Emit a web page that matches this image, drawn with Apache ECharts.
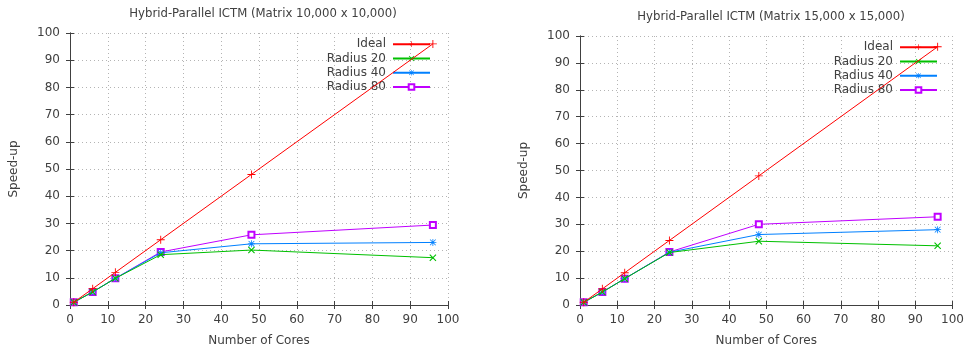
<!DOCTYPE html>
<html>
<head>
<meta charset="utf-8">
<script src="https://cdn.jsdelivr.net/npm/echarts@6/dist/echarts.min.js"></script>
<style>
  html, body { margin: 0; padding: 0; background: #fff; }
  #chart { width: 967px; height: 352px; }
</style>
</head>
<body>
<div id="chart"></div>
<script>
// Data
const cores = [1, 6, 12, 24, 48, 96];
const seriesNames = ["Ideal", "Radius 20", "Radius 40", "Radius 80"];
const xTicks = [0, 10, 20, 30, 40, 50, 60, 70, 80, 90, 100];
const yTicks = [0, 10, 20, 30, 40, 50, 60, 70, 80, 90, 100];
const titles = ["Hybrid-Parallel ICTM (Matrix 10,000 x 10,000)", "Hybrid-Parallel ICTM (Matrix 15,000 x 15,000)"];

// Matrix 10,000 x 10,000
const idealA = [1, 6, 12, 24, 48, 96];
const r20A = [1, 4.8, 9.8, 18.5, 20.2, 17.4];
const r40A = [1, 4.8, 9.8, 19.2, 22.5, 23];
const r80A = [1, 4.8, 9.8, 19.5, 25.8, 29.4];

// Matrix 15,000 x 15,000
const idealB = [1, 6, 12, 24, 48, 96];
const r20B = [1, 4.8, 9.8, 19.5, 23.7, 22];
const r40B = [1, 4.8, 9.8, 19.6, 26.2, 28];
const r80B = [1, 4.8, 9.8, 19.7, 30, 32.8];

const font = "DejaVu Sans";
const textColor = "#404040";
const colors = ["#ff0000", "#00c000", "#0080ff", "#c000ff"];
const plusPath = "path://M0,4 L9,4 L9,5 L0,5 Z M4,0 L5,0 L5,9 L4,9 Z";
const crossPath = "path://M0,1 L1,0 L9,8 L8,9 Z M8,0 L9,1 L1,9 L0,8 Z";
const starPath = "path://M0,4 L9,4 L9,5 L0,5 Z M4,0 L5,0 L5,9 L4,9 Z M0.5,1.2 L1.2,0.5 L8.5,7.8 L7.8,8.5 Z M7.8,0.5 L8.5,1.2 L1.2,8.5 L0.5,7.8 Z";
const symbols = [plusPath, crossPath, starPath, "emptyRect"];
const sizes = [8, 7, 7, 6];

const chart = echarts.init(document.getElementById("chart"));

const grids = [
  { left: 70, right: 519, top: 33, bottom: 47 },
  { left: 580, right: 11, top: 36, bottom: 46 }
];

function mainX(i) {
  return {
    type: "value", gridIndex: i, min: 0, max: 100, interval: 10,
    name: "Number of Cores", nameLocation: "middle", nameGap: 30,
    nameTextStyle: { color: textColor, fontFamily: font, fontSize: 12 },
    axisLine: { lineStyle: { color: "#404040", width: 1 } },
    axisTick: { inside: true, length: 4, lineStyle: { color: "#404040" } },
    axisLabel: { color: textColor, fontFamily: font, fontSize: 12, margin: 9 },
    splitLine: { show: true, lineStyle: { color: "#b4b4b4", type: [1, 3] } }
  };
}
function mirrorX(i) {
  return {
    type: "value", gridIndex: i, min: 0, max: 100, interval: 10, position: "top",
    axisLine: { lineStyle: { color: "#404040", width: 1 } },
    axisTick: { inside: true, length: 4, lineStyle: { color: "#404040" } },
    axisLabel: { show: false }, splitLine: { show: false }
  };
}
function mainY(i, gap) {
  return {
    type: "value", gridIndex: i, min: 0, max: 100, interval: 10,
    name: "Speed-up", nameLocation: "middle", nameGap: gap,
    nameTextStyle: { color: textColor, fontFamily: font, fontSize: 12 },
    axisLine: { show: true, lineStyle: { color: "#404040", width: 1 } },
    axisTick: { show: true, inside: true, length: 4, lineStyle: { color: "#404040" } },
    axisLabel: { color: textColor, fontFamily: font, fontSize: 12, margin: 10 },
    splitLine: { show: true, lineStyle: { color: "#b4b4b4", type: [1, 3] } }
  };
}
function mirrorY(i) {
  return {
    type: "value", gridIndex: i, min: 0, max: 100, interval: 10, position: "right",
    axisLine: { show: true, lineStyle: { color: "#404040", width: 1 } },
    axisTick: { show: true, inside: true, length: 4, lineStyle: { color: "#404040" } },
    axisLabel: { show: false }, splitLine: { show: false }
  };
}

function makeSeries(values, k, gridIdx) {
  return {
    name: seriesNames[k],
    type: "line",
    xAxisIndex: gridIdx * 2,
    yAxisIndex: gridIdx * 2,
    data: cores.map((c, j) => [c, values[j]]),
    symbol: symbols[k],
    symbolSize: sizes[k],
    showAllSymbol: true,
    animation: false,
    lineStyle: { color: colors[k], width: 1 },
    itemStyle: { color: colors[k], borderColor: colors[k], borderWidth: k === 3 ? 1 : 0 },
    z: 10 - k
  };
}

function makeLegend(right, top) {
  return {
    data: seriesNames, orient: "vertical", right: right, top: top,
    align: "right", itemWidth: 37, itemHeight: 7, itemGap: 0,
    textStyle: { color: textColor, fontFamily: font, fontSize: 12, lineHeight: 14.3, padding: [0, 2, 0, 0] },
    selectedMode: false
  };
}

const option = {
  backgroundColor: "#fff",
  animation: false,
  title: [
    { text: titles[0], left: 258, top: 3, textAlign: "center",
      textStyle: { color: textColor, fontFamily: font, fontSize: 11.7, fontWeight: "normal" } },
    { text: titles[1], left: 766, top: 6, textAlign: "center",
      textStyle: { color: textColor, fontFamily: font, fontSize: 11.7, fontWeight: "normal" } }
  ],
  legend: [makeLegend(531, 32), makeLegend(24, 35)],
  grid: grids,
  xAxis: [mainX(0), mirrorX(0), mainX(1), mirrorX(1)],
  yAxis: [mainY(0, 50), mirrorY(0), mainY(1, 50), mirrorY(1)],
  series: [
    makeSeries(idealA, 0, 0), makeSeries(r20A, 1, 0), makeSeries(r40A, 2, 0), makeSeries(r80A, 3, 0),
    makeSeries(idealB, 0, 1), makeSeries(r20B, 1, 1), makeSeries(r40B, 2, 1), makeSeries(r80B, 3, 1)
  ]
};

chart.setOption(option);
</script>
</body>
</html>
